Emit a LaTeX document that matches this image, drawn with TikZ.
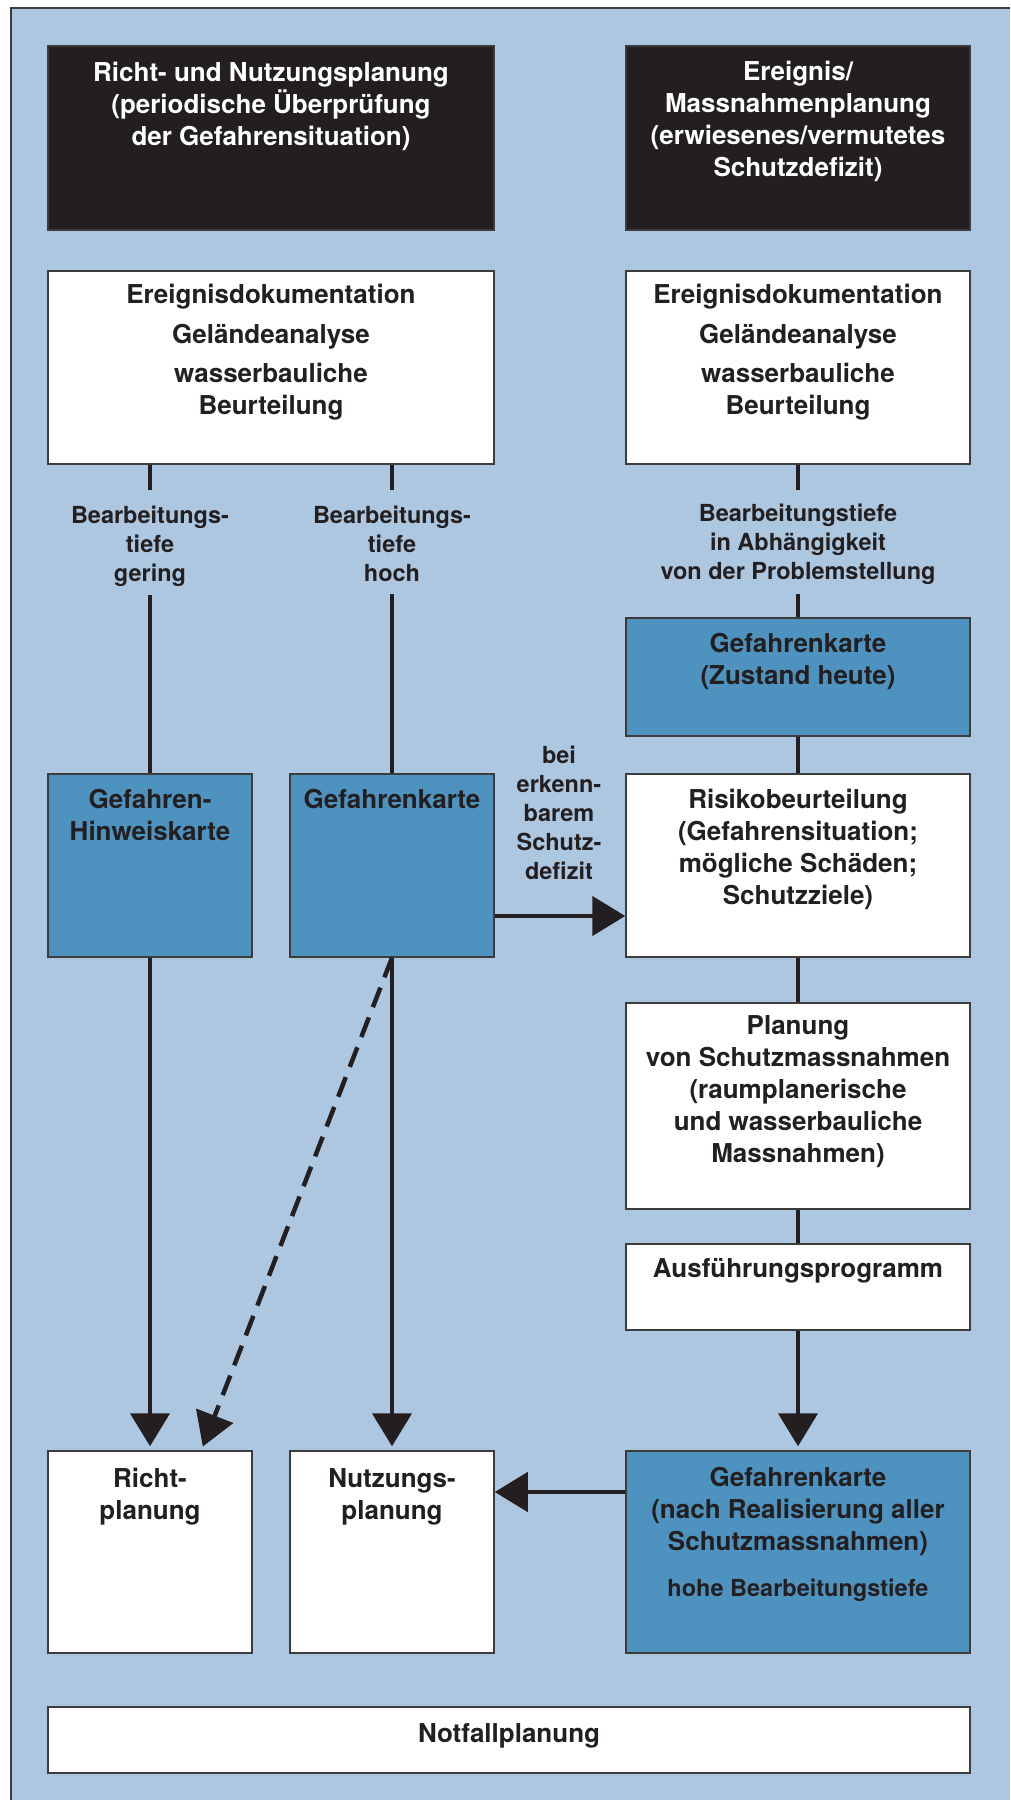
\documentclass[tikz,border=0pt]{standalone}
\usepackage{fontspec}
\setmainfont{TeX Gyre Heros}
\usetikzlibrary{arrows.meta,positioning,calc}

\definecolor{paleblue}{RGB}{174,199,224}
\definecolor{mapblue}{RGB}{78,147,191}
\definecolor{inkblack}{RGB}{35,31,32}
\definecolor{rimgray}{RGB}{60,60,60}

\begin{document}
\begin{tikzpicture}[x=1pt,y=-1pt]

	\tikzstyle{box_head} = [rectangle, draw=rimgray, line width=1.5pt, fill=inkblack, inner sep=0pt]
	\tikzstyle{box_white} = [rectangle, draw=rimgray, line width=1.5pt, fill=white, inner sep=0pt]
	\tikzstyle{box_map} = [rectangle, draw=rimgray, line width=1.5pt, fill=mapblue, inner sep=0pt]
	\tikzstyle{txt_head} = [align=center, inner sep=0pt, text=white, font=\bfseries\fontsize{26}{32}\selectfont]
	\tikzstyle{txt_box} = [align=center, inner sep=0pt, text=inkblack, font=\bfseries\fontsize{26}{32}\selectfont]
	\tikzstyle{txt_small} = [align=center, inner sep=0pt, text=inkblack, font=\bfseries\fontsize{23.5}{29}\selectfont]
	\tikzstyle{link} = [line width=4.5pt, draw=inkblack]
	\tikzstyle{link_arrow} = [link, -{Triangle[length=33pt,width=39pt]}]

	\useasboundingbox (0,0) rectangle (1010,1800);
	\fill[paleblue] (11,8) rectangle (1010,1800);
	\draw[rimgray, line width=1.5pt] (1010,8) -- (11,8) -- (11,1800);

%------------------------------------------------------------
	\node[box_head, minimum width=446pt, minimum height=184pt] (head_left) at (271,138) {};
	\node[txt_head, below=17pt of head_left.north] (head_left_txt) {Richt- und Nutzungsplanung\\(periodische Überprüfung\\der Gefahrensituation)};

	\node[box_head, minimum width=344pt, minimum height=184pt] (head_right) at (798,138) {};
	\node[txt_head, below=16pt of head_right.north] (head_right_txt) {Ereignis/\\Massnahmenplanung\\(erwiesenes/vermutetes\\Schutzdefizit)};
%------------------------------------------------------------
	\node[box_white, minimum width=446pt, minimum height=193pt] (base_left) at (271,367.5) {};
	\node[txt_box, below=14pt of base_left.north] (base_left_txt) {Ereignisdokumentation\\[8pt]Geländeanalyse\\[7pt]wasserbauliche\\Beurteilung};

	\node[box_white, minimum width=344pt, minimum height=193pt] (base_right) at (798,367.5) {};
	\node[txt_box, below=14pt of base_right.north] (base_right_txt) {Ereignisdokumentation\\[8pt]Geländeanalyse\\[7pt]wasserbauliche\\Beurteilung};

	\node[txt_small, anchor=north] (depth_low) at (150,506) {Bearbeitungs-\\tiefe\\gering};
	\node[txt_small, anchor=north] (depth_high) at (392,506) {Bearbeitungs-\\tiefe\\hoch};
	\node[txt_small, anchor=north] (depth_var) at (798,504) {Bearbeitungstiefe\\in Abhängigkeit\\von der Problemstellung};
%------------------------------------------------------------
	\node[box_map, minimum width=344pt, minimum height=118pt] (map_now) at (798,677) {};
	\node[txt_box, below=16pt of map_now.north] (map_now_txt) {Gefahrenkarte\\(Zustand heute)};

	\node[box_map, minimum width=204pt, minimum height=183pt] (map_hint) at (150,865.5) {};
	\node[txt_box, below=16pt of map_hint.north] (map_hint_txt) {Gefahren-\\Hinweiskarte};

	\node[box_map, minimum width=204pt, minimum height=183pt] (map_mid) at (392,865.5) {};
	\node[txt_box, below=16pt of map_mid.north] (map_mid_txt) {Gefahrenkarte};

	\node[box_white, minimum width=344pt, minimum height=183pt] (risk) at (798,865.5) {};
	\node[txt_box, below=16pt of risk.north] (risk_txt) {Risikobeurteilung\\(Gefahrensituation;\\mögliche Schäden;\\Schutzziele)};

	\node[txt_small, anchor=north] (deficit) at (559,746) {bei\\erkenn-\\barem\\Schutz-\\defizit};
%------------------------------------------------------------
	\node[box_white, minimum width=344pt, minimum height=206pt] (plan) at (798,1106) {};
	\node[txt_box, below=13pt of plan.north] (plan_txt) {Planung\\von Schutzmassnahmen\\(raumplanerische\\und wasserbauliche\\Massnahmen)};

	\node[box_white, minimum width=344pt, minimum height=86pt] (exec) at (798,1287) {};
	\node[txt_box, below=15pt of exec.north] (exec_txt) {Ausführungsprogramm};
%------------------------------------------------------------
	\node[box_white, minimum width=204pt, minimum height=202pt] (richt) at (150,1552) {};
	\node[txt_box, below=18pt of richt.north] (richt_txt) {Richt-\\planung};

	\node[box_white, minimum width=204pt, minimum height=202pt] (nutz) at (392,1552) {};
	\node[txt_box, below=18pt of nutz.north] (nutz_txt) {Nutzungs-\\planung};

	\node[box_map, minimum width=344pt, minimum height=202pt] (map_after) at (798,1552) {};
	\node[txt_box, below=17pt of map_after.north] (map_after_txt) {Gefahrenkarte\\(nach Realisierung aller\\Schutzmassnahmen)};
	\node[txt_small, below=129pt of map_after.north] (map_after_note) {hohe Bearbeitungstiefe};

	\node[box_white, minimum width=922pt, minimum height=66pt] (emerg) at (509,1740) {};
	\node[txt_box, below=17pt of emerg.north] (emerg_txt) {Notfallplanung};
%------------------------------------------------------------
	\draw[link, shorten >=16pt] (base_left.south -| depth_low) -- (depth_low.north);
	\draw[link, shorten >=16pt] (base_left.south -| depth_high) -- (depth_high.north);
	\draw[link, shorten >=14pt] (base_right.south) -- (depth_var.north);

	\draw[link, shorten <=8pt] (depth_low.south) -- (map_hint.north);
	\draw[link, shorten <=12pt] (depth_high.south) -- (map_mid.north);
	\draw[link, shorten <=9pt] (depth_var.south) -- (map_now.north);

	\draw[link] (map_now.south) -- (risk.north);
	\draw[link] (risk.south) -- (plan.north);
	\draw[link] (plan.south) -- (exec.north);
	\draw[link_arrow, shorten >=4pt] (exec.south) -- (map_after.north);

	\draw[link_arrow] ([yshift=-50.5pt]map_mid.east) -- ([yshift=-50.5pt]risk.west);
	\draw[link_arrow] ([yshift=60pt]map_after.west) -- ([yshift=60pt]nutz.east);

	\draw[link_arrow, shorten >=4pt] (map_hint.south) -- (richt.north);
	\draw[link_arrow, shorten >=4pt] (map_mid.south) -- (nutz.north);
	\draw[link_arrow, shorten >=4pt, dash pattern=on 21pt off 11pt] (map_mid.south) -- ($(richt.north)!0.5!(richt.north east)$);

\end{tikzpicture}
\end{document}
